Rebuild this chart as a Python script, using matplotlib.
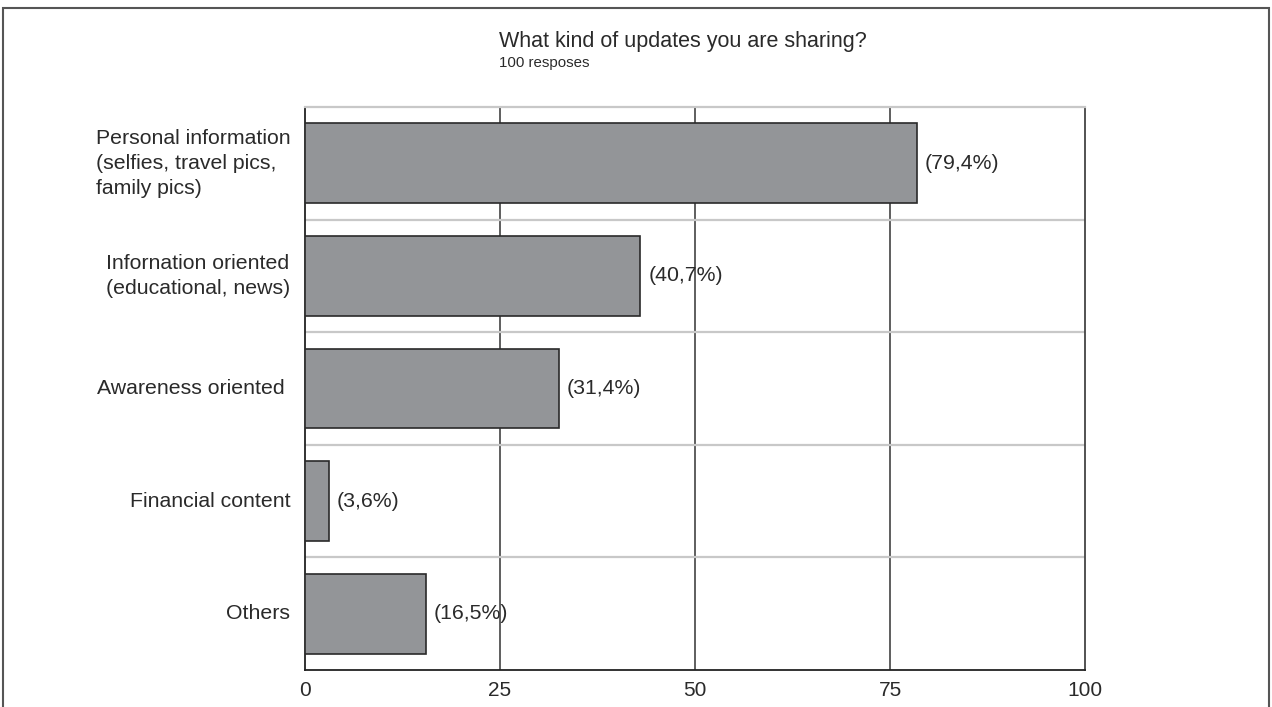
import matplotlib.pyplot as plt
from matplotlib.patches import Rectangle

categories = ["Personal information\n(selfies, travel pics,\nfamily pics)",
              "Infornation oriented\n(educational, news)",
              "Awareness oriented ",
              "Financial content",
              "Others"]
align = ["left", "center", "center", "center", "center"]
values = [78.5, 43.0, 32.6, 3.1, 15.5]
value_labels = ["(79,4%)", "(40,7%)", "(31,4%)", "(3,6%)", "(16,5%)"]
xticks = [0, 25, 50, 75, 100]

plt.rcParams['font.family'] = ['Liberation Sans', 'DejaVu Sans']

fig = plt.figure(figsize=(12.72, 7.07), dpi=100)
ax = fig.add_axes([305/1272, 1-670/707, 780/1272, 563/707])

ypos = list(range(len(categories)))
ax.barh(ypos, values, height=0.71, color='#939598', edgecolor='#2a2a2a',
        linewidth=1.2, zorder=3)

for y, v, lab in zip(ypos, values, value_labels):
    ax.text(v + 1.0, y, lab, va='center', ha='left', fontsize=15.3, color='#2a2a2a')

# grid and separators
for x in xticks[1:-1]:
    ax.axvline(x, color='#333333', lw=1.1, zorder=1)
for y in ypos[:-1]:
    ax.axhline(y + 0.5, color='#c8c8c8', lw=1.6, zorder=1)

ax.set_xlim(0, 100)
ax.set_ylim(len(categories) - 0.5, -0.5)
ax.set_xticks(xticks)
ax.set_xticklabels([str(t) for t in xticks], fontsize=15, color='#2a2a2a')
ax.set_yticks(ypos)
ax.set_yticklabels([])
ax.tick_params(length=0, pad=8)

for y, c, a in zip(ypos, categories, align):
    ax.text(-1.9, y, c, ha='right', va='center', multialignment=a,
            fontsize=15.3, color='#2a2a2a', linespacing=1.42)

ax.spines['top'].set_color('#c8c8c8')
ax.spines['top'].set_linewidth(1.6)
ax.spines['right'].set_color('#444444')
ax.spines['left'].set_color('#222222')
ax.spines['bottom'].set_color('#222222')
for s in ['right', 'left', 'bottom']:
    ax.spines[s].set_linewidth(1.3)

fig.text(499/1272, 1-47/707, "What kind of updates you are sharing?",
         ha='left', va='baseline', fontsize=15.5, color='#2a2a2a')
fig.text(499/1272, 1-67/707, "100 resposes",
         ha='left', va='baseline', fontsize=10.8, color='#2a2a2a')

fig.patches.append(Rectangle((3/1272, -0.02), 1266/1272, 1.02-8/707,
                             transform=fig.transFigure, fill=False,
                             edgecolor='#555555', lw=1.5))

fig.savefig("out.png", dpi=100)
